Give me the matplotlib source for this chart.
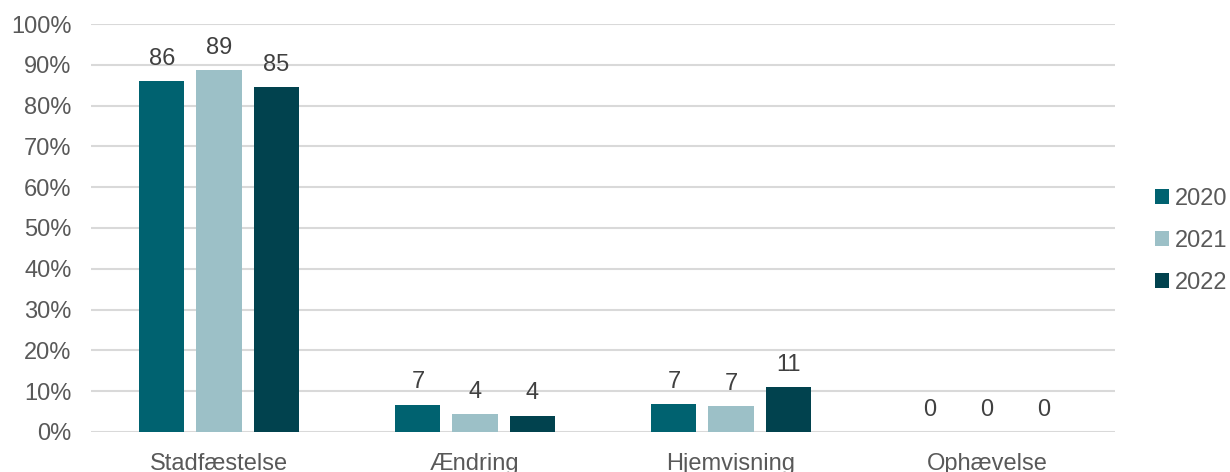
import numpy as np
import matplotlib.pyplot as plt

categories = ['Stadfæstelse', 'Ændring', 'Hjemvisning', 'Ophævelse']
years = ['2020', '2021', '2022']
values = {
    '2020': [86.0, 6.7, 6.9, 0.0],
    '2021': [88.8, 4.4, 6.4, 0.0],
    '2022': [84.6, 4.0, 10.9, 0.0],
}
labels = {
    '2020': ['86', '7', '7', '0'],
    '2021': ['89', '4', '7', '0'],
    '2022': ['85', '4', '11', '0'],
}
colors = ['#006270', '#9CC0C7', '#01424E']

plt.rcParams['font.family'] = ['Liberation Sans', 'DejaVu Sans']

fig = plt.figure(figsize=(12.3, 4.72), dpi=100)
ax = fig.add_axes([0.074, 0.085, 0.8325, 0.864])

x = np.arange(len(categories))
width = 0.176
step = 0.223
for i, year in enumerate(years):
    pos = x + (i - 1) * step
    bars = ax.bar(pos, values[year], width, color=colors[i], label=year, zorder=3)
    for b, lab in zip(bars, labels[year]):
        ax.annotate(lab, (b.get_x() + b.get_width() / 2, b.get_height()),
                    xytext=(0, 8), textcoords='offset points',
                    ha='center', va='bottom', fontsize=17, color='#404040')

ax.set_xlim(-0.5, len(categories) - 0.5)
ax.set_ylim(0, 100)
ax.set_yticks(np.arange(0, 101, 10))
ax.set_yticklabels([f'{v}%' for v in range(0, 101, 10)])
ax.set_xticks(x)
ax.set_xticklabels(categories)
ax.tick_params(axis='both', length=0, labelsize=17, colors='#595959')
ax.tick_params(axis='x', pad=15)
ax.tick_params(axis='y', pad=14)
ax.grid(axis='y', color='#D9D9D9', linewidth=1.5, zorder=0)
for s in ax.spines.values():
    s.set_visible(False)

ax.legend(loc='center left', bbox_to_anchor=(1.03, 0.468), frameon=False,
          fontsize=17, labelcolor='#595959', handlelength=0.6, handleheight=0.6,
          handletextpad=0.25, labelspacing=0.85, borderaxespad=0.0)

plt.savefig('out.png')
